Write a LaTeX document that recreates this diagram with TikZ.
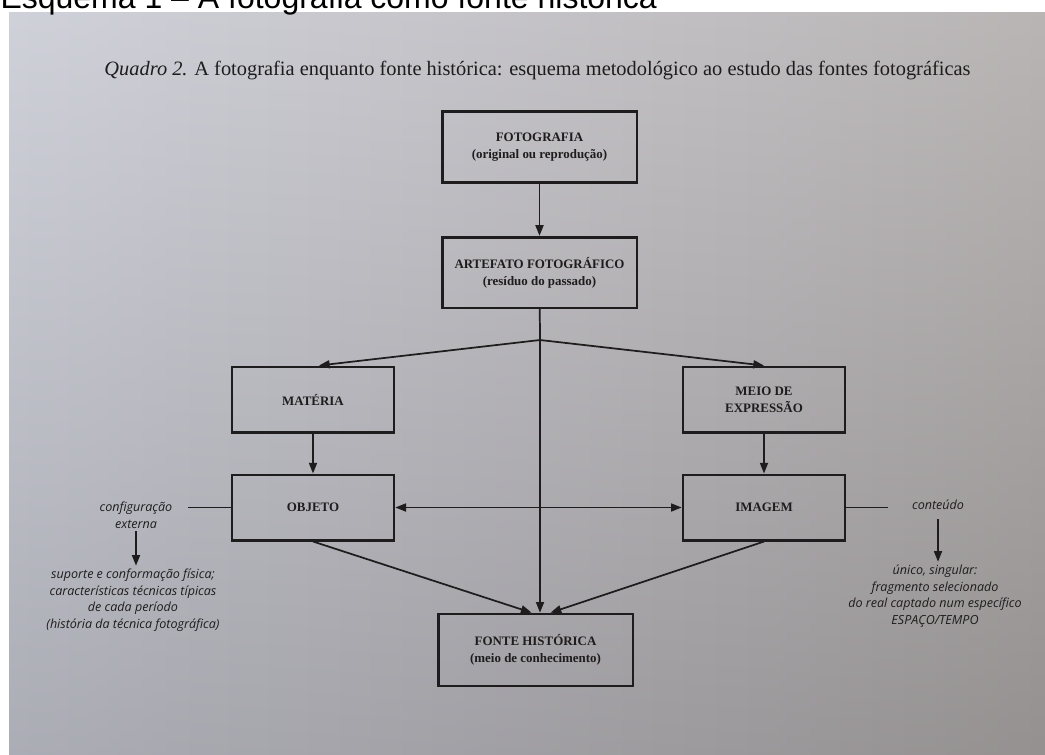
\documentclass[tikz,border=0pt]{standalone}
\usepackage{fontspec}
\setmainfont{Liberation Serif}
\newfontfamily\titlefont{Liberation Sans}
\newfontfamily\notefont{Open Sans}
\usetikzlibrary{arrows.meta}

\definecolor{ink}{RGB}{30,28,28}
\definecolor{paperleft}{RGB}{200,202,212}
\definecolor{papermid}{RGB}{194,194,197}
\definecolor{paperright}{RGB}{174,169,169}

\tikzset{every picture/.style={line width=0.75pt}}
\tikzset{
  box/.style={draw=ink, line width=2pt, text=ink, align=center,
    font=\bfseries\fontsize{9.7}{12.7}\selectfont},
  bigbox/.style={box, minimum width=146pt, minimum height=53pt},
  smallbox/.style={box, minimum width=121.5pt, minimum height=49pt},
  note/.style={text=ink, align=center, inner sep=2pt,
    font=\notefont\itshape\fontsize{9.4}{12.4}\selectfont},
  link/.style={draw=ink, line width=1.3pt},
  arr/.style={link, -{Triangle[length=8pt,width=6pt]}},
  arrboth/.style={link, {Triangle[length=8pt,width=6pt]}-{Triangle[length=8pt,width=6pt]}}
}

\begin{document}
\begin{tikzpicture}[x=0.75pt,y=0.75pt,yscale=-1,xscale=1]
\useasboundingbox (0,0) rectangle (1045,754);
\clip (0,0) rectangle (1045,754);

%Page and photograph
\fill[white] (0,0) rectangle (1045,754);
\shade[left color=paperleft, middle color=papermid, right color=paperright] (9,12) rectangle (1045,754);
\shade[top color=white, bottom color=black, opacity=0.14] (9,12) rectangle (1045,754);

% Text Node
\node[anchor=base west, inner sep=0pt, font=\titlefont\fontsize{24}{28}\selectfont] (titulo) at (0,8) {Esquema 1 – A fotografia como fonte histórica};
% Text Node
\node[anchor=base, text=ink, font=\fontsize{15.3}{18}\selectfont] (quadro) at (537.5,75) {\textit{Quadro 2.} A fotografia enquanto fonte histórica: esquema metodológico ao estudo das fontes fotográficas};

%Shape: Rectangle
\node[bigbox] (foto) at (539.5,147) {FOTOGRAFIA\\(original ou reprodução)};
%Shape: Rectangle
\node[bigbox] (artefato) at (539.5,272.5) {ARTEFATO FOTOGRÁFICO\\(resíduo do passado)};
%Shape: Rectangle
\node[smallbox] (materia) at (313,399.5) {MATÉRIA};
%Shape: Rectangle
\node[smallbox] (meio) at (764,399.5) {MEIO DE\\EXPRESSÃO};
%Shape: Rectangle
\node[smallbox] (objeto) at (313,507.5) {OBJETO};
%Shape: Rectangle
\node[smallbox] (imagem) at (764,507.5) {IMAGEM};
%Shape: Rectangle
\node[bigbox, minimum height=54pt] (fonte) at (535.5,650) {FONTE HISTÓRICA\\(meio de conhecimento)};

% Text Node
\node[note] (confext) at (136,515) {configuração\\externa};
% Text Node
\node[note] (suporte) at (133,600) {suporte e conformação física;\\características técnicas típicas\\de cada período\\(história da técnica fotográfica)};
% Text Node
\node[note] (conteudo) at (938,505) {conteúdo};
% Text Node
\node[note] (unico) at (935,596) {único, singular:\\fragmento selecionado\\do real captado num específico\\ESPAÇO/TEMPO};

\coordinate (J) at (540,340);
\coordinate (cfgend) at (188,507.5);
\coordinate (cntend) at (888,507.5);

%Straight Lines
\draw[arr] (foto) -- (artefato);
\draw[link] (artefato) -- (J);
\draw[arr] (J) -- (materia.80);
\draw[arr] (J) -- (meio.north);
\draw[arr] (J) -- (J |- fonte.north);
\draw[arr] (materia) -- (objeto);
\draw[arr] (meio) -- (imagem);
\draw[arrboth] (objeto) -- (imagem);
\draw[arr] (objeto.south) -- (fonte.96);
\draw[arr] (imagem.south) -- (fonte.68);
\draw[link] (objeto.west) -- (cfgend);
\draw[link] (imagem.east) -- (cntend);
\draw[arr] (confext.south) -- (confext.south |- suporte.north);
\draw[arr] (conteudo.south) ++(0,6) -- (conteudo.south |- unico.north);

\end{tikzpicture}
\end{document}
